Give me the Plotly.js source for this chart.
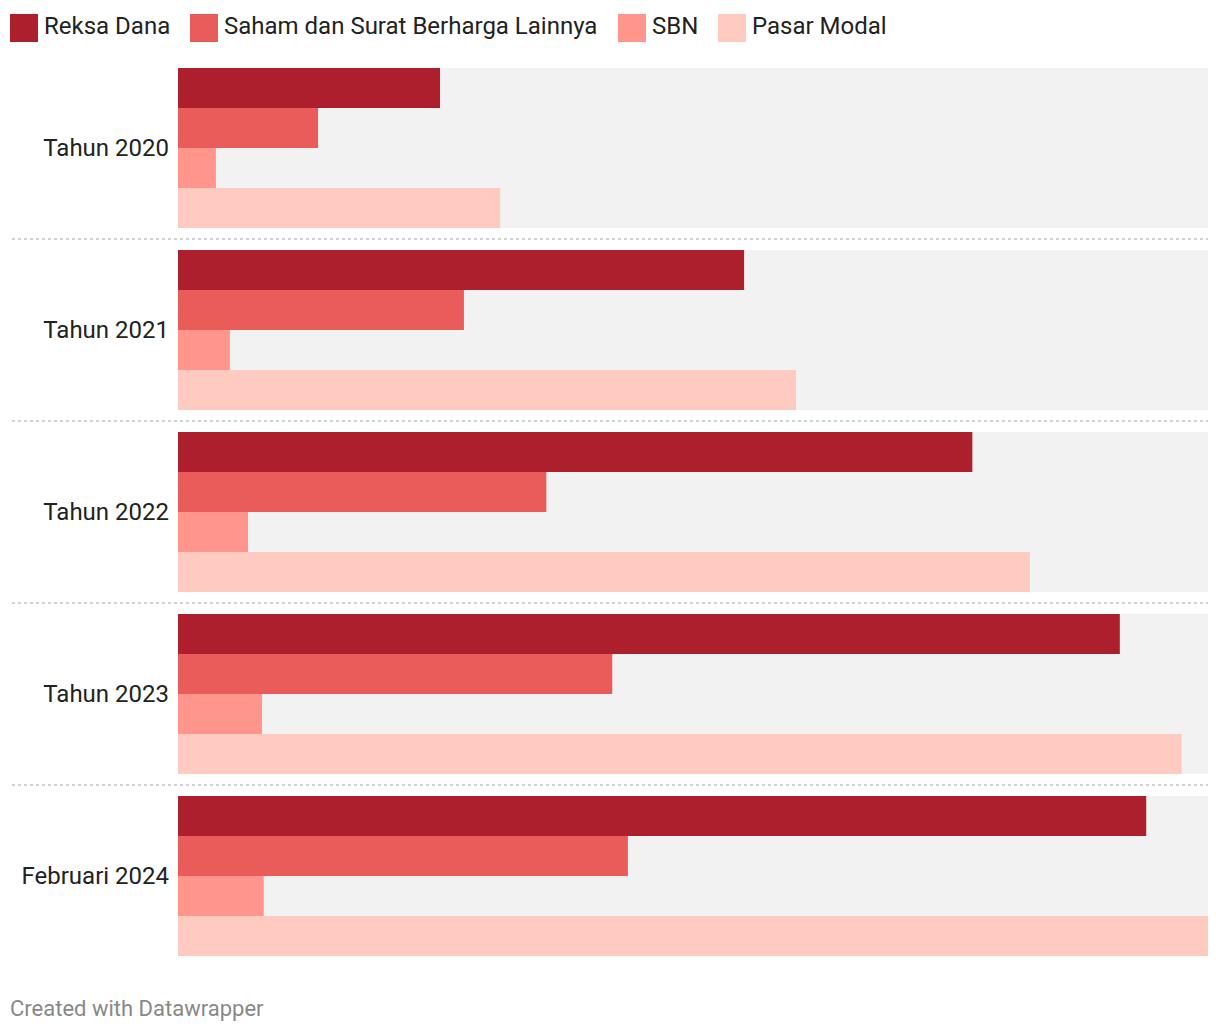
<!DOCTYPE html>
<html>
<head>
<meta charset="utf-8">
<script src="https://cdn.plot.ly/plotly-3.0.1.min.js"></script>
<style>
html,body{margin:0;padding:0;background:#fff;}
#chart{width:1220px;height:1034px;}
</style>
</head>
<body>
<div id="chart"></div>
<script>
// Data (jumlah investor, juta)
const categories = ["Tahun 2020", "Tahun 2021", "Tahun 2022", "Tahun 2023", "Februari 2024"];
const seriesNames = ["Reksa Dana", "Saham dan Surat Berharga Lainnya", "SBN", "Pasar Modal"];
const reksaDana = [3.18, 6.87, 9.64, 11.43, 11.75];
const saham = [1.70, 3.47, 4.47, 5.27, 5.46];
const sbn = [0.46, 0.63, 0.85, 1.02, 1.04];
const pasarModal = [3.91, 7.50, 10.34, 12.18, 12.50];

const colors = ["#ad1f2d", "#e95c5a", "#ff958b", "#ffcbc0"];
const seriesValues = [reksaDana, saham, sbn, pasarModal];

const FONT = "Roboto, 'Noto Sans', Arial, sans-serif";

const traces = seriesValues.map((vals, i) => ({
  type: "bar",
  orientation: "h",
  name: seriesNames[i],
  y: categories,
  x: vals,
  marker: {color: colors[i], line: {width: 0}},
  hoverinfo: "skip",
  showlegend: false
}));

const maxVal = Math.max(...pasarModal);
const gap = 22 / 182;
const half = (1 - gap) / 2;

const shapes = [];
categories.forEach((c, i) => {
  shapes.push({
    type: "rect", layer: "below", xref: "paper", yref: "y",
    x0: 0, x1: 1, y0: i - half, y1: i + half,
    fillcolor: "#f2f2f2", line: {width: 0}
  });
  if (i < categories.length - 1) {
    shapes.push({
      type: "line", layer: "below", xref: "paper", yref: "y",
      x0: (12 - 178) / 1030, x1: 1, y0: i + 0.5, y1: i + 0.5,
      line: {color: "#c4c4c4", width: 1.5, dash: "dot"}
    });
  }
});

// Custom legend (swatches + labels)
const legendX = [10, 190, 618, 718];
const annotations = [];
seriesNames.forEach((n, i) => {
  shapes.push({
    type: "rect", xref: "paper", yref: "paper",
    xsizemode: "pixel", ysizemode: "pixel",
    xanchor: 0, yanchor: 1,
    x0: legendX[i] - 178, x1: legendX[i] - 178 + 28,
    y0: 57 - 14, y1: 57 - 42,
    fillcolor: colors[i], line: {width: 0}
  });
  annotations.push({
    xref: "paper", yref: "paper", x: 0, y: 1,
    xanchor: "left", yanchor: "middle",
    xshift: legendX[i] - 178 + 32, yshift: 57 - 26,
    text: n, showarrow: false,
    font: {family: FONT, size: 24, color: "#222"}
  });
});
annotations.push({
  xref: "paper", yref: "paper", x: 0, y: 0,
  xanchor: "left", yanchor: "middle",
  xshift: 8 - 178, yshift: -(1008 - 967),
  text: "Created with Datawrapper", showarrow: false,
  font: {family: FONT, size: 22, color: "#888"}
});

const layout = {
  width: 1220, height: 1034,
  margin: {l: 178, r: 12, t: 57, b: 67, pad: 0},
  paper_bgcolor: "#fff", plot_bgcolor: "rgba(0,0,0,0)",
  barmode: "group", bargap: gap, bargroupgap: 0,
  font: {family: FONT, size: 24, color: "#222"},
  xaxis: {range: [0, maxVal], visible: false, fixedrange: true, showgrid: false, zeroline: false},
  yaxis: {
    type: "category", autorange: "reversed", categoryorder: "array", categoryarray: categories,
    showgrid: false, zeroline: false, showline: false, ticks: "", ticklabelstandoff: 8,
    tickfont: {family: FONT, size: 24, color: "#222"}, fixedrange: true
  },
  shapes: shapes,
  annotations: annotations,
  showlegend: false
};

Plotly.newPlot("chart", traces, layout, {displayModeBar: false, staticPlot: true});
</script>
</body>
</html>
